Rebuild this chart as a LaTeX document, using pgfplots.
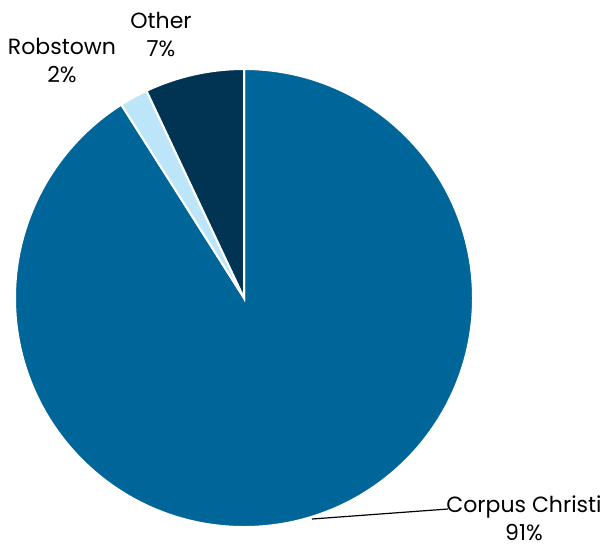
\documentclass[border=0pt]{standalone}
\usepackage{pgfplots}
\pgfplotsset{compat=1.18}
\usepackage{pgfplotstable}
\usepackage{fontspec}
\setmainfont{Poppins}
\definecolor{ccblue}{RGB}{0,101,153}
\definecolor{robblue}{RGB}{189,229,250}
\definecolor{othblue}{RGB}{0,52,82}
\pgfplotstableread{
label value
CorpusChristi 91
Robstown 2
Other 7
}\piedata
\pgfplotstablegetelem{0}{value}\of\piedata \edef\vA{\pgfplotsretval}
\pgfplotstablegetelem{1}{value}\of\piedata \edef\vB{\pgfplotsretval}
\pgfplotstablegetelem{2}{value}\of\piedata \edef\vC{\pgfplotsretval}
\pgfmathsetmacro\aA{90}
\pgfmathsetmacro\aB{90-3.6*\vA}
\pgfmathsetmacro\aC{\aB-3.6*\vB}
\pgfmathsetmacro\aD{\aC-3.6*\vC}
\begin{document}
\begin{tikzpicture}
\begin{axis}[
  x=0.5pt, y=0.5pt,
  xmin=0, xmax=603, ymin=0, ymax=548,
  hide axis, clip=false, scale only axis,
]
\path (axis cs:0,0) rectangle (axis cs:603,548);
\fill[ccblue, draw=white, line width=1pt] (axis cs:244,250) -- ++(\aA:114.5pt) arc[start angle=\aA, end angle=\aB, radius=114.5pt] -- cycle;
\fill[robblue, draw=white, line width=1pt] (axis cs:244,250) -- ++(\aB:114.5pt) arc[start angle=\aB, end angle=\aC, radius=114.5pt] -- cycle;
\fill[othblue, draw=white, line width=1pt] (axis cs:244,250) -- ++(\aC:114.5pt) arc[start angle=\aC, end angle=\aD, radius=114.5pt] -- cycle;
\draw[black, line width=0.6pt] (axis cs:312,29) -- (axis cs:448,39);
\node[align=center, font=\fontsize{11}{14}\selectfont, inner sep=0pt] at (axis cs:524,30) {Corpus Christi\\\vA\%};
\node[align=center, font=\fontsize{11}{14}\selectfont, inner sep=0pt] at (axis cs:62,488) {Robstown\\\vB\%};
\node[align=center, font=\fontsize{11}{14}\selectfont, inner sep=0pt] at (axis cs:161,514) {Other\\\vC\%};
\end{axis}
\end{tikzpicture}
\end{document}
